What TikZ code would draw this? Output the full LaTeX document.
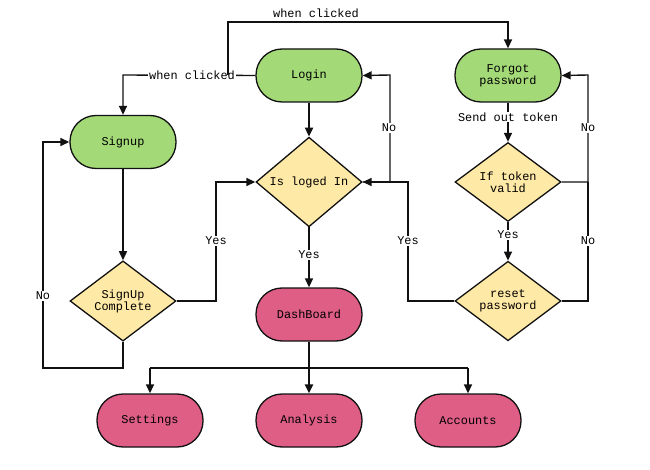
\documentclass[tikz,border=0pt]{standalone}
\usepackage{fontspec}
\setmainfont{Liberation Mono}
\usetikzlibrary{shapes.geometric,arrows.meta}
\definecolor{grn}{HTML}{A3D977}
\definecolor{yel}{HTML}{FFE9A6}
\definecolor{pnk}{HTML}{DE5E85}
\definecolor{ln}{HTML}{111111}
\begin{document}
\begin{tikzpicture}[x=1pt,y=-1pt,
  txt/.style={font=\fontsize{11.9}{12}\selectfont},
  term/.style={txt,draw=ln,line width=1.3pt,rounded corners=26pt,minimum width=106pt,minimum height=53pt,align=center},
  dec/.style={txt,draw=ln,diamond,line width=1.3pt,minimum width=106pt,minimum height=79pt,inner sep=0pt,align=center,fill=yel},
  conn/.style={draw=ln,line width=1.4pt,-{Triangle[length=9pt,width=8pt]}},
  plain/.style={draw=ln,line width=1.4pt},
  thickc/.style={conn,line width=2.2pt},
  lab/.style={txt,fill=white,inner sep=1pt}]
\useasboundingbox (0,0) rectangle (650,470);
% nodes
\node[term,fill=grn] (login) at (309,75.5) {Login};
\node[term,fill=grn] (signup) at (123,142) {Signup};
\node[term,fill=grn] (forgot) at (508,75.5) {Forgot\\password};
\node[dec] (isl) at (309,182) {Is loged In};
\node[dec] (tok) at (508,182) {If token\\valid};
\node[dec] (suc) at (123,301) {SignUp\\Complete};
\node[dec] (reset) at (508,301) {reset\\password};
\node[term,fill=pnk] (dash) at (309,314.5) {DashBoard};
\node[term,fill=pnk] (set) at (150,420.5) {Settings};
\node[term,fill=pnk] (ana) at (309,420.5) {Analysis};
\node[term,fill=pnk] (acc) at (468,420.5) {Accounts};
% helper coordinates
\coordinate (j1) at (228,75);
% connectors
\draw[conn] (login.west) -- (123,75) -- (signup.north);
\node[lab] (wc1) at (192,75) {when clicked};
\draw[conn] (j1) -- (228,22) -- (508,22) -- (forgot.north);
\node[txt] (wc2) at (316,13) {when clicked};
\draw[thickc] (login.south) -- (isl.north);
\draw[conn] (isl.east) -- (390,182) -- (390,75) -- (login.east);
\node[lab] (no1) at (389,128) {No};
\draw[conn] (isl.south) -- (dash.north);
\node[lab] (y1) at (309,255) {Yes};
\draw[conn] (signup.south) -- (suc.north);
\draw[conn] (suc.east) -- (216,301) -- (216,182) -- (isl.west);
\node[lab] (y2) at (216,241) {Yes};
\draw[conn] (suc.south) -- (123,368) -- (43,368) -- (43,142) -- (signup.west);
\node[lab] (no2) at (43,296) {No};
\draw[conn] (forgot.south) -- (tok.north);
\node[lab] (sot) at (508,117) {Send out token};
\draw[conn] (tok.east) -- (588,182) -- (588,75) -- (forgot.east);
\node[lab] (no3) at (588,128) {No};
\draw[conn] (tok.south) -- (reset.north);
\node[lab] (y3) at (508,235) {Yes};
\draw[plain] (reset.east) -- (588,301) -- (588,182);
\node[lab] (no4) at (588,241) {No};
\draw[conn] (reset.west) -- (408,301) -- (408,182) -- (isl.east);
\node[lab] (y4) at (408,241) {Yes};
\draw[thickc] (dash.south) -- (ana.north);
\draw[plain] (150,368) -- (468,368);
\draw[conn] (150,368) -- (set.north);
\draw[conn] (468,368) -- (acc.north);
\end{tikzpicture}
\end{document}
